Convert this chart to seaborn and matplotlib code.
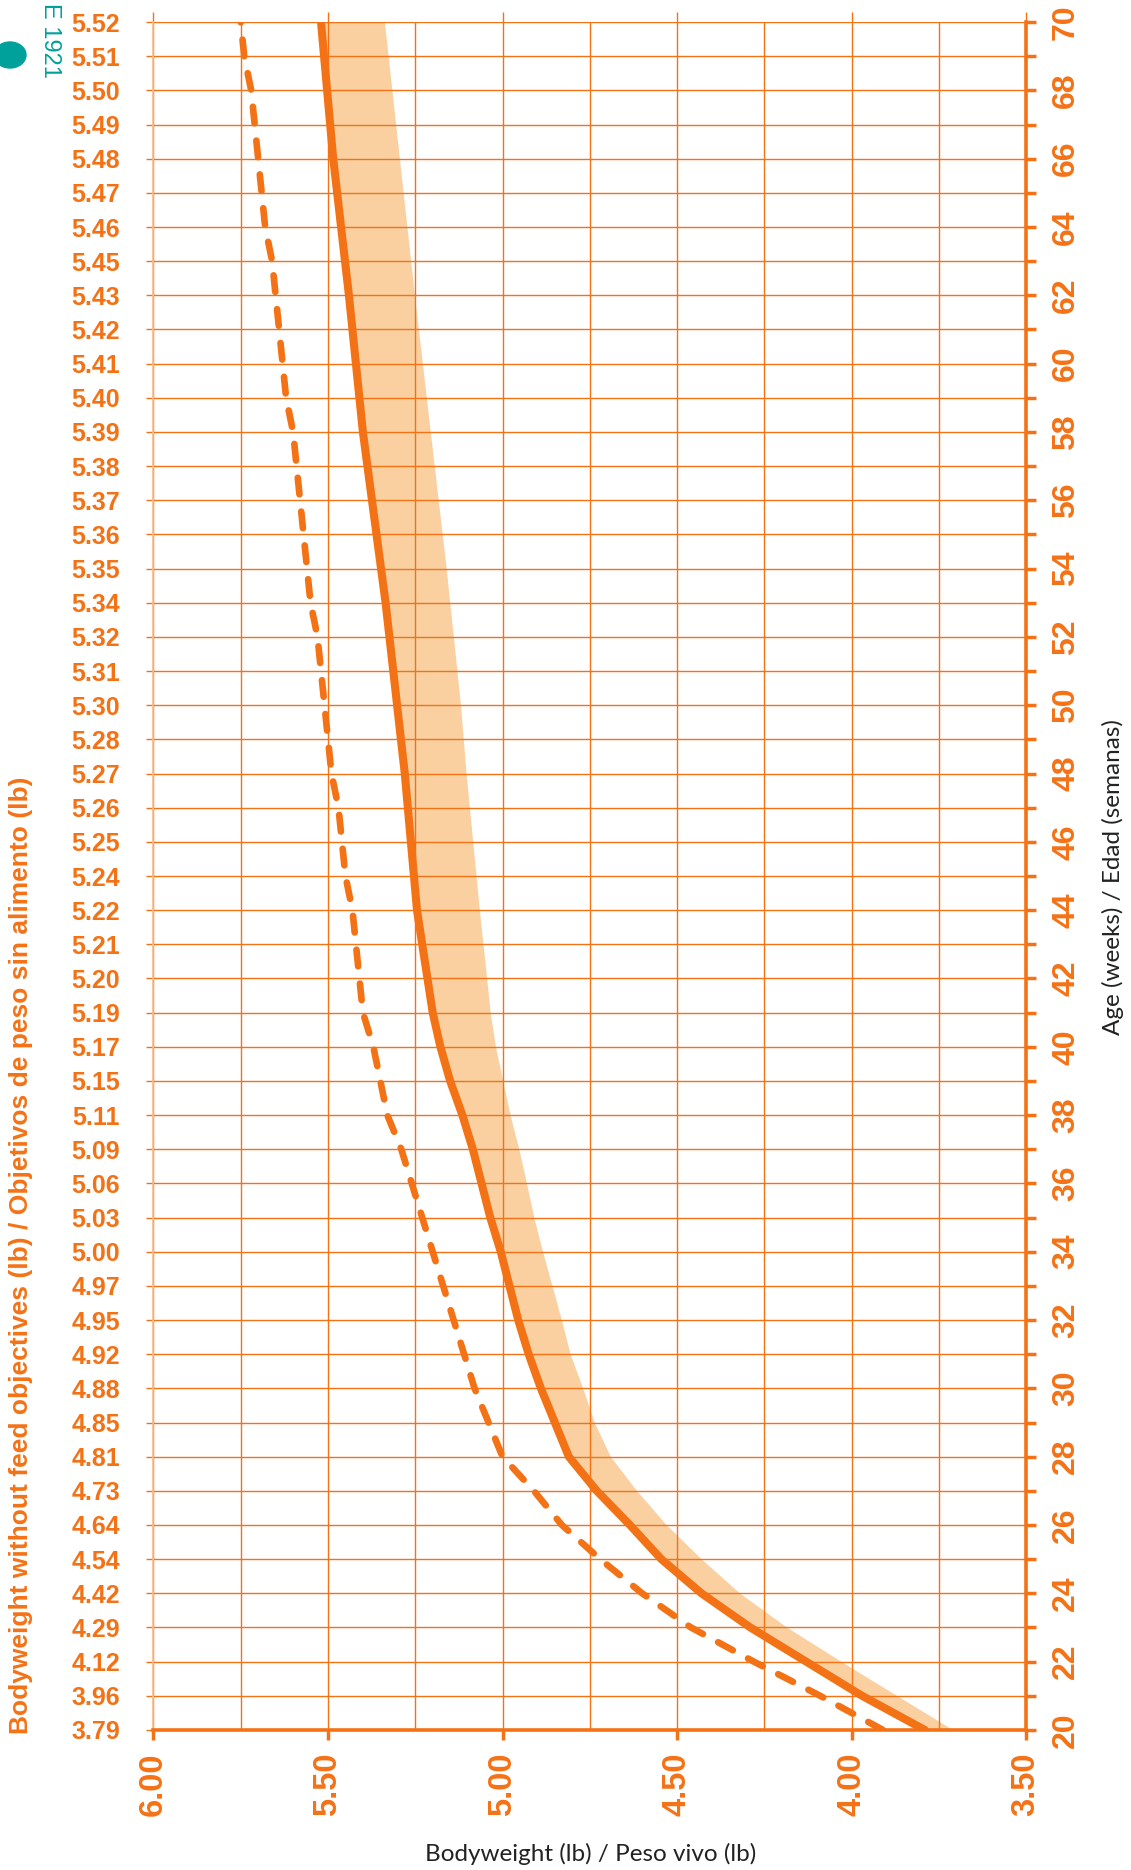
import numpy as np
import pandas as pd
import matplotlib
matplotlib.use('Agg')
import matplotlib.pyplot as plt
from matplotlib.patches import Ellipse
import seaborn as sns

# age in weeks, one row per week (left tick labels)
weeks = list(range(20, 71))
left_labels = ['3.79', '3.96', '4.12', '4.29', '4.42', '4.54', '4.64', '4.73', '4.81', '4.85',
               '4.88', '4.92', '4.95', '4.97', '5.00', '5.03', '5.06', '5.09', '5.11', '5.15',
               '5.17', '5.19', '5.20', '5.21', '5.22', '5.24', '5.25', '5.26', '5.27', '5.28',
               '5.30', '5.31', '5.32', '5.34', '5.35', '5.36', '5.37', '5.38', '5.39', '5.40',
               '5.41', '5.42', '5.43', '5.45', '5.46', '5.47', '5.48', '5.49', '5.50', '5.51', '5.52']

# bodyweight target (solid line), read at its bends
line_weeks = [20, 21, 22, 23, 24, 25, 26, 27, 28, 29, 30, 31, 32, 33, 34, 35, 36, 37, 38,
              39, 40, 41, 44, 48, 53, 58, 62, 66, 70]
line_lb = [3.79, 3.97, 4.13, 4.29, 4.43, 4.545, 4.635, 4.73, 4.81, 4.85, 4.89, 4.925, 4.955,
           4.98, 5.005, 5.035, 5.06, 5.085, 5.115, 5.15, 5.178, 5.20, 5.245, 5.28, 5.335,
           5.40, 5.44, 5.485, 5.52]

# lower edge of the shaded range
band_weeks = [20, 21, 22, 23, 24, 25, 26, 27, 28, 29, 30, 31, 32, 33, 34, 35, 36, 37, 38,
              39, 40, 41, 42, 44, 46, 48, 50, 54, 62, 70]
band_low_lb = [3.71, 3.87, 4.03, 4.185, 4.32, 4.43, 4.53, 4.615, 4.69, 4.736, 4.769, 4.805,
               4.83, 4.857, 4.884, 4.909, 4.93, 4.952, 4.977, 4.998, 5.019, 5.034, 5.044,
               5.065, 5.084, 5.103, 5.119, 5.16, 5.251, 5.337]

# dashed curve, one value per week
dashed_lb = [3.91, 4.09, 4.28, 4.46, 4.60, 4.72, 4.83, 4.91, 5.00, 5.04,
             5.08, 5.11, 5.14, 5.17, 5.20, 5.23, 5.26, 5.29, 5.33, 5.35,
             5.37, 5.40, 5.41, 5.42, 5.43, 5.45, 5.46, 5.47, 5.49, 5.50,
             5.51, 5.52, 5.53, 5.55, 5.56, 5.57, 5.58, 5.59, 5.60, 5.62,
             5.63, 5.64, 5.65, 5.66, 5.68, 5.69, 5.70, 5.71, 5.72, 5.74, 5.75]

bw_ticks = [6.00, 5.50, 5.00, 4.50, 4.00, 3.50]
bw_minor = [5.75, 5.25, 4.75, 4.25, 3.75]
age_major = list(range(20, 71, 2))
age_minor = list(range(21, 70, 2))

line_df = pd.DataFrame({'week': line_weeks, 'lb': line_lb})
dash_df = pd.DataFrame({'week': weeks, 'lb': dashed_lb})

ORANGE = '#F47216'
PEACH = '#FAD0A0'
LIGHT = '#F9B987'
TEAL = '#00A19A'

sns.set_style('white')
plt.rcParams['font.family'] = ['Liberation Sans', 'DejaVu Sans']

fig = plt.figure(figsize=(11.31, 18.70), dpi=100)
ax = fig.add_axes([0.1357, 0.0749, 0.7715, 0.9133])

# shaded range between the lower edge and the target line
ax.fill(band_low_lb + line_lb[::-1], band_weeks + line_weeks[::-1],
        color=PEACH, lw=0, zorder=0.3)
sns.lineplot(data=line_df, x='lb', y='week', orient='y', sort=False, estimator=None,
             color=ORANGE, lw=5.8, ax=ax, zorder=3, solid_joinstyle='round')
sns.lineplot(data=dash_df, x='lb', y='week', orient='y', sort=False, estimator=None,
             color=ORANGE, lw=4.8, ls=(0, (2.5, 2.6)), dash_capstyle='round',
             ax=ax, zorder=3)

ax.set_xlim(6.0, 3.5)
ax.set_ylim(20, 70)
ax.set_axisbelow(True)

ax.set_xticks(bw_ticks)
ax.set_xticks(bw_minor, minor=True)
ax.set_xticklabels(['%.2f' % v for v in bw_ticks], rotation=90, fontsize=23.5,
                   fontweight='bold', color=ORANGE)
ax.set_yticks(weeks)
ax.set_yticklabels(left_labels, fontsize=18, fontweight='bold', color=ORANGE)
ax.tick_params(axis='x', which='major', bottom=True, direction='out', length=7,
               width=2.5, color=ORANGE, pad=9)
ax.tick_params(axis='x', which='minor', bottom=False, length=0)
ax.tick_params(axis='y', left=True, direction='out', length=5, width=1,
               color=ORANGE, pad=19)
ax.xaxis.grid(True, which='both', color=ORANGE, lw=1.0)
ax.yaxis.grid(True, which='major', color=ORANGE, lw=1.0)
ax.set_xlabel('')
ax.set_ylabel('')

ax.spines['top'].set_visible(False)
ax.spines['right'].set_visible(False)
ax.spines['bottom'].set_color(ORANGE)
ax.spines['bottom'].set_linewidth(2.6)
ax.spines['left'].set_color(LIGHT)
ax.spines['left'].set_linewidth(1.2)

# small ticks on the top edge
top = ax.secondary_xaxis('top')
top.set_xticks(bw_ticks)
top.tick_params(axis='x', top=True, direction='out', length=7, width=1,
                color=ORANGE, labeltop=False)
top.spines['top'].set_visible(False)

# age axis on the right
ax2 = ax.twinx()
ax2.set_ylim(20, 70)
ax2.set_yticks(age_major)
ax2.set_yticks(age_minor, minor=True)
ax2.set_yticklabels([str(w) for w in age_major], rotation=90, fontsize=23,
                    fontweight='bold', color=ORANGE, va='center')
ax2.tick_params(axis='y', which='both', right=True, direction='out', length=7,
                width=2.5, color=ORANGE, pad=11)
ax2.grid(False)
for s in ['left', 'top', 'bottom']:
    ax2.spines[s].set_visible(False)
ax2.spines['right'].set_color(ORANGE)
ax2.spines['right'].set_linewidth(2.6)

fig.text(0.019, 0.329,
         'Bodyweight without feed objectives (lb) / Objetivos de peso sin alimento (lb)',
         rotation=90, ha='center', va='center', fontsize=19, fontweight='bold',
         color=ORANGE)
fig.text(0.984, 0.531, 'Age (weeks) / Edad (semanas)', rotation=90,
         ha='center', va='center', fontsize=17.5, color='#222222', family='Lato')
fig.text(0.522, 0.0085, 'Bodyweight (lb) / Peso vivo (lb)', ha='center',
         va='center', fontsize=17.5, color='#222222', family='Lato')

# logo in the corner
fig.text(0.044, 1 - 78 / 1870, 'E 1921', rotation=-90, ha='center', va='bottom',
         fontsize=17, color=TEAL)
fig.patches.append(Ellipse((10 / 1131, 1 - 55 / 1870), 32 / 1131, 26 / 1870,
                           transform=fig.transFigure, color=TEAL, figure=fig))

fig.savefig('out.png', dpi=100)
